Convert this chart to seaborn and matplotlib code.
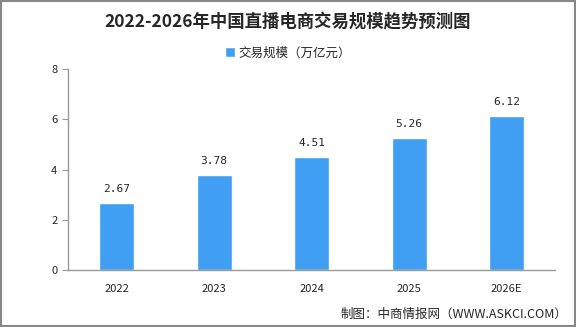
import numpy as np
import pandas as pd
import matplotlib.pyplot as plt
import seaborn as sns
from matplotlib.patches import Rectangle

years = ['2022', '2023', '2024', '2025', '2026E']
values = [2.67, 3.78, 4.51, 5.26, 6.12]
series_name = '交易规模（万亿元）'
title = '2022-2026年中国直播电商交易规模趋势预测图'
source = '制图：中商情报网（WWW.ASKCI.COM）'

sns.set_style('white')
plt.rcParams['font.family'] = ['Noto Sans CJK SC', 'DejaVu Sans']

df = pd.DataFrame({'year': years, 'value': values})
bar_color = '#409EF3'
grey = '#999999'

fig = plt.figure(figsize=(5.76, 3.27), dpi=100)
ax = fig.add_axes([0.118, 0.174, 0.846, 0.615])
sns.barplot(data=df, x='year', y='value', color=bar_color, width=0.36,
            saturation=1, ax=ax, label=series_name)

for i, v in enumerate(values):
    ax.text(i, v + 0.35, f'{v:.2f}', ha='center', va='bottom', fontsize=8,
            family=['DejaVu Sans Mono'])

ax.set_ylim(0, 8)
ax.set_xlim(-0.5, len(years) - 0.5)
ax.set_yticks([0, 2, 4, 6, 8])
ax.set_xlabel('')
ax.set_ylabel('')
ax.tick_params(axis='x', which='major', length=0, labelsize=8, pad=10)
ax.set_xticks(np.arange(-0.5, len(years), 1), minor=True)
ax.tick_params(axis='x', which='minor', length=4, color=grey, direction='out')
ax.tick_params(axis='y', length=4, color=grey, labelsize=8, left=True)
for s in ['top', 'right']:
    ax.spines[s].set_visible(False)
for s in ['left', 'bottom']:
    ax.spines[s].set_color(grey)
    ax.spines[s].set_linewidth(1)

leg = ax.legend(loc='center', bbox_to_anchor=(0.5, 0.838),
                bbox_transform=fig.transFigure, frameon=False,
                fontsize=9, handlelength=0.8, handleheight=0.8,
                handletextpad=0.3)

fig.text(0.5, 0.935, title, ha='center', va='center', fontsize=12.5,
         fontweight='bold')
fig.text(0.985, 0.04, source, ha='right', va='center', fontsize=9)

fig.patches.append(Rectangle((0.001, 0.002), 0.997, 0.995, transform=fig.transFigure,
                             fill=False, edgecolor='#888888', linewidth=1.5))

fig.savefig('out.png', dpi=100)
